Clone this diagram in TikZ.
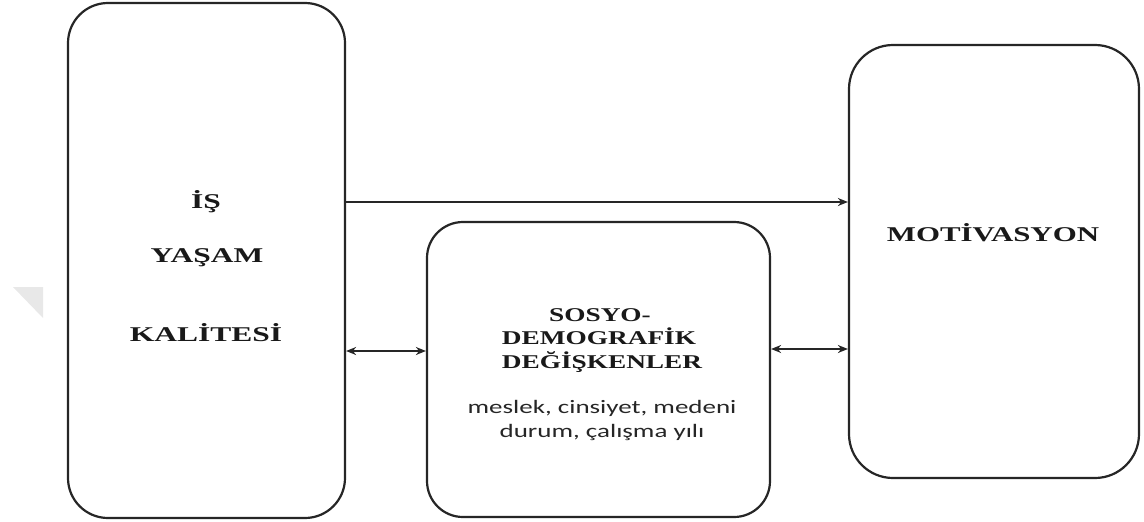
\documentclass[tikz,border=0pt]{standalone}
\usepackage{fontspec}
\usepackage{graphicx}
\setmainfont{Liberation Serif}
\newfontfamily\subfont{Carlito}
\usetikzlibrary{arrows.meta}
\newcommand\hs[2]{\scalebox{#1}[1]{#2}}
\tikzset{
  box/.style={draw=black!85, line width=2.2pt, rounded corners=40pt, fill=white},
  arr/.style={line width=2pt, draw=black!85, -{Stealth[length=10pt,width=8pt]}},
  darr/.style={line width=2pt, draw=black!85, {Stealth[length=10pt,width=8pt]}-{Stealth[length=10pt,width=8pt]}},
  ttl/.style={font=\fontsize{21pt}{24pt}\selectfont\bfseries, anchor=base, inner sep=0pt, text=black!90},
  mttl/.style={font=\fontsize{19.5pt}{23pt}\selectfont\bfseries, anchor=base, inner sep=0pt, text=black!90},
  sub/.style={font=\subfont\fontsize{19pt}{22pt}\selectfont, anchor=base, inner sep=0pt, text=black!85},
}
\begin{document}
\begin{tikzpicture}[x=1pt,y=-1pt]
\useasboundingbox (0,0) rectangle (1144,522);
% faint watermark triangle
\fill[black!9] (13,287) -- (43,287) -- (43,318) -- cycle;
% boxes
\node[box, minimum width=277pt, minimum height=515pt] (L) at (206.5,260.5) {};
\node[box, minimum width=343pt, minimum height=295pt, rounded corners=36pt] (M) at (598.5,369.5) {};
\node[box, minimum width=290pt, minimum height=433pt, rounded corners=44pt] (R) at (994,261.5) {};
% left text
\node[ttl] (l1) at (206,208) {\hs{1.5}{İŞ}};
\node[ttl] (l2) at (207,262) {\hs{1.5}{YAŞAM}};
\node[ttl] (l3) at (206,341) {\hs{1.5}{KALİTESİ}};
% right text
\node[ttl] (r1) at (993,241) {\hs{1.47}{MOTİVASYON}};
% middle text
\node[mttl] (m1) at (600,321) {\hs{1.4}{SOSYO-}};
\node[mttl] (m2) at (599,344) {\hs{1.4}{DEMOGRAFİK}};
\node[mttl] (m3) at (602,368) {\hs{1.4}{DEĞİŞKENLER}};
\node[sub] (m4) at (602,413) {\hs{1.42}{meslek, cinsiyet, medeni}};
\node[sub] (m5) at (602,437) {\hs{1.42}{durum, çalışma yılı}};
% connectors
\draw[arr] ([yshift=58.5pt]L.east) -- ([yshift=58.5pt]L.east -| R.west);
\draw[darr] ([yshift=18.5pt]M.west -| L.east) -- ([yshift=18.5pt]M.west);
\draw[darr] ([yshift=20.5pt]M.east) -- ([yshift=20.5pt]M.east -| R.west);
\end{tikzpicture}
\end{document}
